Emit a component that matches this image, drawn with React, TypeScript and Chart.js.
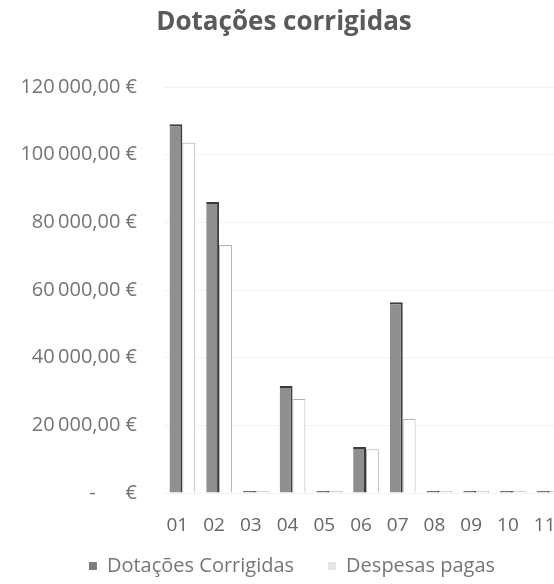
import React, { useEffect, useRef } from 'react';
import { Chart, registerables } from 'chart.js';

Chart.register(...registerables);

const chartTitle = 'Dotações corrigidas';
const categories = ['01', '02', '03', '04', '05', '06', '07', '08', '09', '10', '11'];
const seriesNames = ['Dotações Corrigidas', 'Despesas pagas'];
const dotacoesCorrigidas = [109000, 86000, 0, 31600, 0, 13600, 56400, 0, 0, 0, 0];
const despesasPagas = [103500, 73300, 0, 27800, 0, 12900, 21900, 0, 0, 0, 0];
const yTickValues = [0, 20000, 40000, 60000, 80000, 100000, 120000];
const yTickLabels = [
  '-\u2002\u2002\u2002€',
  '20\u2009000,00\u00a0€',
  '40\u2009000,00\u00a0€',
  '60\u2009000,00\u00a0€',
  '80\u2009000,00\u00a0€',
  '100\u2009000,00\u00a0€',
  '120\u2009000,00\u00a0€',
];

const FONT = "'Open Sans', 'DejaVu Sans', sans-serif";

const legendShift = {
  id: 'legendShift',
  afterLayout(chart: any) {
    const l = chart.legend;
    if (l) {
      l.top -= 11;
      l.bottom -= 11;
      l.left += 8;
      l.right += 8;
    }
  },
};

export default function App() {
  const ref = useRef<HTMLCanvasElement | null>(null);

  useEffect(() => {
    if (!ref.current) return;
    const chart = new Chart(ref.current, {
      type: 'bar',
      data: {
        labels: categories,
        datasets: [
          {
            label: seriesNames[0],
            data: dotacoesCorrigidas,
            backgroundColor: '#8f8f8f',
            borderColor: '#3c3c3c',
            borderWidth: { top: 2, right: 2, left: 0, bottom: 0 },
            borderSkipped: 'bottom',
            minBarLength: 2,
          },
          {
            label: seriesNames[1],
            data: despesasPagas,
            backgroundColor: '#ffffff',
            borderColor: '#b0b0b0',
            borderWidth: 1,
            borderSkipped: 'bottom',
            minBarLength: 2,
          },
        ],
      },
      plugins: [legendShift],
      options: {
        responsive: false,
        animation: false,
        devicePixelRatio: 1,
        layout: { padding: { left: 0, right: 22, top: 0, bottom: 0 } },
        datasets: { bar: { categoryPercentage: 0.7, barPercentage: 1 } },
        plugins: {
          title: {
            display: true,
            text: chartTitle,
            color: '#5a5a5a',
            font: { family: FONT, size: 26, weight: 'bold', lineHeight: 1.2 },
            padding: { top: 7, bottom: 48.8 },
          },
          legend: {
            position: 'bottom',
            labels: {
              boxWidth: 8,
              boxHeight: 8,
              padding: 34,
              color: '#767676',
              font: { family: FONT, size: 20 },
              generateLabels: () => [
                { text: seriesNames[0], fillStyle: '#7d7d7d', strokeStyle: '#7d7d7d', lineWidth: 0, fontColor: '#767676', datasetIndex: 0 },
                { text: seriesNames[1], fillStyle: '#e6e6e6', strokeStyle: '#e6e6e6', lineWidth: 0, fontColor: '#767676', datasetIndex: 1 },
              ],
            },
          },
          tooltip: { enabled: false },
        },
        scales: {
          x: {
            grid: { display: false, drawTicks: false },
            border: { display: false },
            ticks: {
              color: '#666666',
              font: { family: FONT, size: 19 },
              padding: 21,
              labelOffset: -5,
              maxRotation: 0,
              autoSkip: false,
            },
            afterFit: (s: any) => {
              s.height = 40;
            },
          },
          y: {
            min: 0,
            max: 120000,
            afterBuildTicks: (axis: any) => {
              axis.ticks = yTickValues.map((v) => ({ value: v }));
            },
            grid: { color: '#f3f3f3', drawTicks: false },
            border: { display: false },
            ticks: {
              padding: 27,
              color: '#747474',
              font: { family: FONT, size: 20 },
              callback: (_v: any, i: number) => yTickLabels[i],
            },
            afterFit: (s: any) => {
              s.width = 164;
            },
          },
        },
      },
    });
    return () => chart.destroy();
  }, []);

  return (
    <div
      style={{
        position: 'fixed',
        left: 0,
        top: 0,
        width: 554,
        height: 584,
        overflow: 'hidden',
        background: '#ffffff',
      }}
    >
      <canvas ref={ref} width={590} height={597} style={{ width: 590, height: 597, display: 'block' }} />
    </div>
  );
}
